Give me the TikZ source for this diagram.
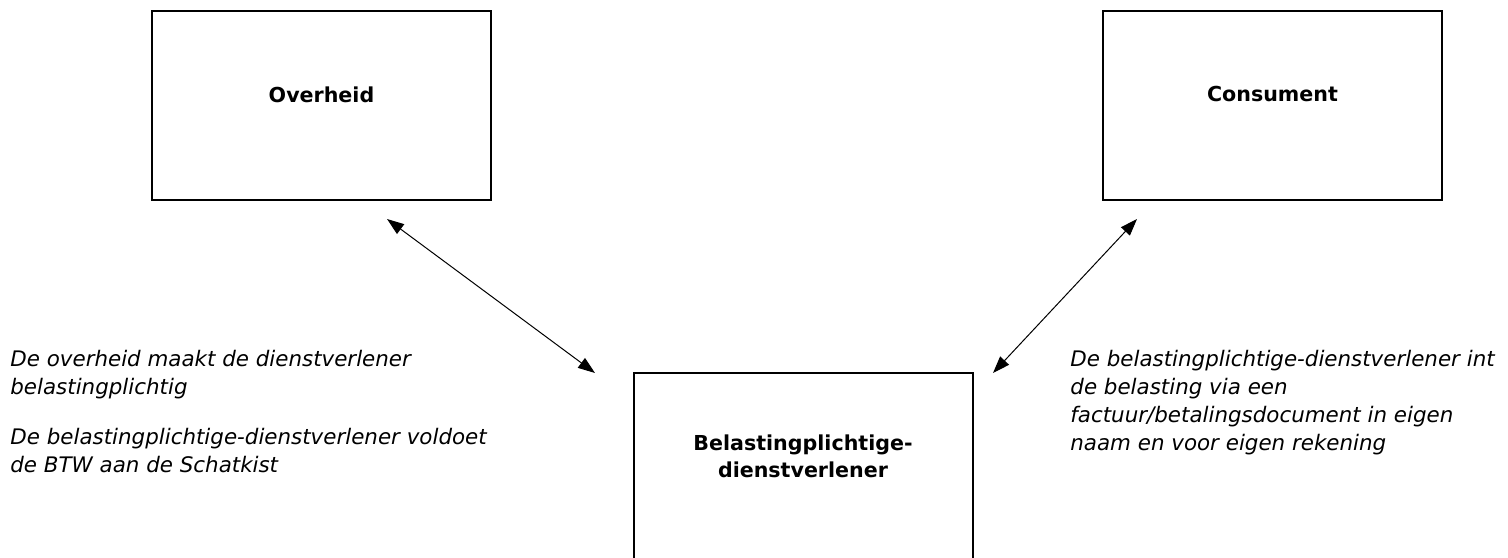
\documentclass[tikz,border=0pt]{standalone}
\usepackage{fontspec}
\setmainfont{DejaVu Sans}
\usetikzlibrary{arrows, arrows.meta}

\tikzset{
  party/.style={draw, line width=1pt, minimum width=169.5pt, minimum height=94.5pt, inner sep=0pt},
  partytext/.style={font=\bfseries\fontsize{10.3}{13.5}\selectfont, align=center, yshift=5.5pt},
  note/.style={anchor=base west, align=left, inner sep=0pt, font=\itshape\fontsize{10.7}{14}\selectfont},
  duo/.style={<->, >={Triangle[length=8.5pt, width=6pt]}, line width=0.5pt},
}

\begin{document}
\begin{tikzpicture}[x=0.5pt, y=-0.5pt]
  \useasboundingbox (0,0) rectangle (1508,557);

  \node[party, label={[partytext]center:Overheid}] (overheid) at (321.5,105.5) {};
  \node[party, label={[partytext]center:Consument}] (consument) at (1272.5,105.5) {};
  \node[party, label={[partytext]center:Belastingplichtige-\\dienstverlener}] (dienst) at (803,467.5) {};

  \coordinate (ov1) at (387,219);
  \coordinate (ov2) at (595,373);
  \coordinate (co1) at (1137,219);
  \coordinate (co2) at (993,373);

  \draw[duo] (ov1) -- (ov2);
  \draw[duo] (co1) -- (co2);

  % base = baseline of the last line
  \node[note] (links) at (10,472) {De overheid maakt de dienstverlener\\belastingplichtig\\[11pt]De belastingplichtige-dienstverlener voldoet\\de BTW aan de Schatkist};
  \node[note] (rechts) at (1070,450) {De belastingplichtige-dienstverlener int\\de belasting via een\\factuur/betalingsdocument in eigen\\naam en voor eigen rekening};
\end{tikzpicture}
\end{document}
